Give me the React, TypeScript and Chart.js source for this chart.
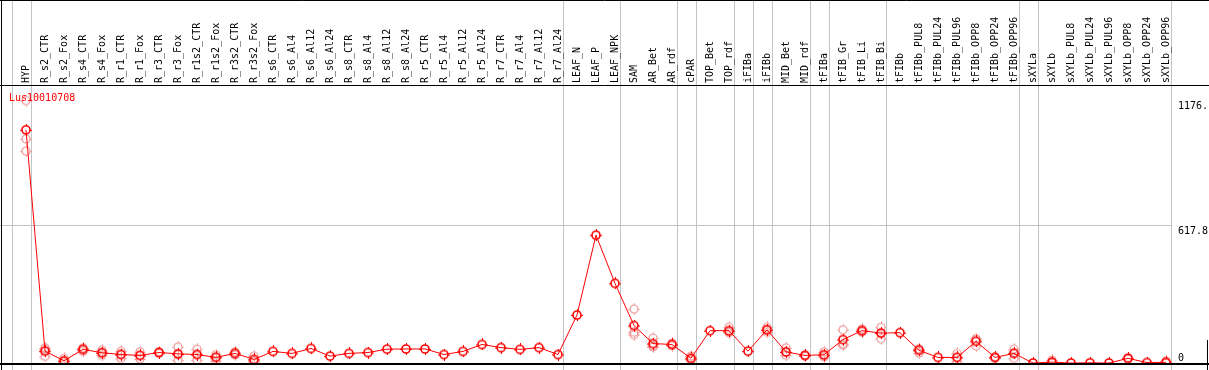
import React, { useEffect, useRef } from "react";
import { Chart, registerables } from "chart.js";

Chart.register(...registerables);

const geneTitle = "Lus10010708";

const categories = [
  "HYP",
  "R_s2_CTR", "R_s2_Fox", "R_s4_CTR", "R_s4_Fox", "R_r1_CTR", "R_r1_Fox", "R_r3_CTR", "R_r3_Fox",
  "R_r1s2_CTR", "R_r1s2_Fox", "R_r3s2_CTR", "R_r3s2_Fox",
  "R_s6_CTR", "R_s6_Al4", "R_s6_Al12", "R_s6_Al24",
  "R_s8_CTR", "R_s8_Al4", "R_s8_Al12", "R_s8_Al24",
  "R_r5_CTR", "R_r5_Al4", "R_r5_Al12", "R_r5_Al24",
  "R_r7_CTR", "R_r7_Al4", "R_r7_Al12", "R_r7_Al24",
  "LEAF_N", "LEAF_P", "LEAF_NPK",
  "SAM", "AR_Bet", "AR_rdf", "cPAR", "TOP_Bet", "TOP_rdf", "iFIBa", "iFIBb", "MID_Bet", "MID_rdf",
  "tFIBa", "tFIB_Gr", "tFIB_Li", "tFIB_Bi",
  "tFIBb", "tFIBb_PUL8", "tFIBb_PUL24", "tFIBb_PUL96", "tFIBb_OPP8", "tFIBb_OPP24", "tFIBb_OPP96",
  "sXYLa",
  "sXYLb", "sXYLb_PUL8", "sXYLb_PUL24", "sXYLb_PUL96", "sXYLb_OPP8", "sXYLb_OPP24", "sXYLb_OPP96",
];

const means = [
  1045,
  53, 10, 61, 46, 38, 34, 47, 41,
  38, 25, 43, 16,
  52, 43, 65, 31,
  43, 47, 62, 63,
  63, 38, 52, 83,
  69, 61, 69, 38,
  215, 573, 357,
  168, 87, 83, 21, 145, 145, 53, 149, 50, 34,
  37, 105, 145, 134,
  136, 57, 25, 25, 97, 25, 43,
  0,
  4, 0, 1, 0, 21, 2, 3,
];

const replicates: number[][] = [
  [1176, 1004, 950],
  [68, 61, 30], [21, 8, 1], [68, 63, 52], [57, 46, 35], [53, 40, 21], [50, 34, 18], [50, 47, 44], [72, 38, 13],
  [62, 39, 13], [37, 28, 10], [50, 43, 36], [31, 10, 7],
  [], [], [], [],
  [], [], [], [],
  [], [], [], [],
  [], [], [], [],
  [], [], [],
  [242, 138, 127], [112, 77, 72], [88, 83, 78], [31, 19, 13], [], [160, 140, 136], [], [160, 150, 138], [68, 48, 35], [36, 34, 32],
  [50, 33, 28], [149, 86, 80], [153, 145, 138], [160, 134, 109],
  [], [64, 62, 45], [], [43, 25, 8], [109, 105, 77], [28, 25, 22], [62, 46, 21],
  [],
  [13, 0, 0], [], [], [], [24, 21, 18], [], [9, 0, 0],
];

// index of the last category of each group (a separator is drawn after it)
const groupEnds = [-1, 0, 28, 31, 34, 35, 37, 38, 39, 41, 42, 45, 52, 53, 60];
const yTickValues = [1176, 617.8, 0];
const yTickLabels = ["1176.", "617.8", "0"];
const yGridValues = [617.8];
const yMax = 1246;

const FONT = '10px "DejaVu Sans Mono", "Liberation Mono", monospace';

function makeMarker(color: string, lw: number, stubColor: string) {
  const c = document.createElement("canvas");
  c.width = 12;
  c.height = 12;
  const ctx = c.getContext("2d")!;
  ctx.strokeStyle = color;
  ctx.lineWidth = lw;
  ctx.beginPath();
  ctx.arc(6, 6, 4, 0, Math.PI * 2);
  ctx.stroke();
  ctx.strokeStyle = stubColor;
  ctx.lineWidth = 1;
  ctx.beginPath();
  ctx.moveTo(6.5, 0);
  ctx.lineTo(6.5, 2);
  ctx.moveTo(6.5, 10);
  ctx.lineTo(6.5, 12);
  ctx.moveTo(0, 6.5);
  ctx.lineTo(2, 6.5);
  ctx.moveTo(10, 6.5);
  ctx.lineTo(12, 6.5);
  ctx.stroke();
  return c;
}

const decorPlugin = {
  id: "decor",
  beforeDatasetsDraw(chart: any) {
    const ctx = chart.ctx as CanvasRenderingContext2D;
    const xs = chart.scales.x;
    const ys = chart.scales.y;
    const H = chart.height;
    ctx.save();
    ctx.strokeStyle = "#c4c4c4";
    ctx.lineWidth = 1;
    let lastX = 0;
    for (const g of groupEnds) {
      const x = Math.round((xs.getPixelForValue(g) + xs.getPixelForValue(g + 1)) / 2 - 5) + 0.5;
      lastX = x;
      ctx.beginPath();
      ctx.moveTo(x, 0);
      ctx.lineTo(x, H);
      ctx.stroke();
    }
    for (const v of yGridValues) {
      const y = Math.round(ys.getPixelForValue(v)) + 0.5;
      ctx.beginPath();
      ctx.moveTo(0, y);
      ctx.lineTo(lastX, y);
      ctx.stroke();
    }
    ctx.restore();
  },
  afterDatasetsDraw(chart: any) {
    const ctx = chart.ctx as CanvasRenderingContext2D;
    const xs = chart.scales.x;
    const ys = chart.scales.y;
    const W = chart.width;
    const H = chart.height;
    const area = chart.chartArea;
    ctx.save();
    // frame
    ctx.strokeStyle = "#000";
    ctx.lineWidth = 1;
    ctx.beginPath();
    ctx.moveTo(0, 0.5);
    ctx.lineTo(W, 0.5);
    ctx.moveTo(0, area.top + 0.5);
    ctx.lineTo(W, area.top + 0.5);
    ctx.moveTo(1.5, 0);
    ctx.lineTo(1.5, H);
    ctx.moveTo(W - 1.5, 340);
    ctx.lineTo(W - 1.5, H);
    ctx.stroke();
    ctx.lineWidth = 2;
    ctx.beginPath();
    ctx.moveTo(0, area.bottom + 1);
    ctx.lineTo(W, area.bottom + 1);
    ctx.stroke();

    ctx.font = FONT;
    // category labels (rotated)
    ctx.fillStyle = "#000";
    ctx.textAlign = "left";
    ctx.textBaseline = "alphabetic";
    categories.forEach((c, i) => {
      const x = xs.getPixelForValue(i);
      ctx.save();
      ctx.translate(x + 3, area.top - 2);
      ctx.rotate(-Math.PI / 2);
      ctx.fillText(c, 0, 0);
      ctx.restore();
    });
    // right axis labels
    yTickValues.forEach((v, i) => {
      const y = ys.getPixelForValue(v);
      if (v === 0) {
        ctx.textBaseline = "alphabetic";
        ctx.fillText(yTickLabels[i], area.right + 12, y - 2.5);
      } else {
        ctx.textBaseline = "top";
        ctx.fillText(yTickLabels[i], area.right + 12, y + 1);
      }
    });
    // title
    ctx.fillStyle = "#ff0000";
    ctx.textBaseline = "middle";
    ctx.fillText(geneTitle, 9, 98);
    ctx.restore();
  },
};

export default function App() {
  const ref = useRef<HTMLCanvasElement | null>(null);
  useEffect(() => {
    document.body.style.margin = "0";
    const meanMarker = makeMarker("#ff0000", 1.6, "#ff0000");
    const repMarker = makeMarker("rgba(236,130,130,0.85)", 1.2, "rgba(236,130,130,0.6)");
    const repData: { x: string; y: number }[] = [];
    replicates.forEach((arr, i) => arr.forEach((v) => repData.push({ x: categories[i], y: v })));
    const chart = new Chart(ref.current!, {
      type: "line",
      data: {
        labels: categories,
        datasets: [
          {
            label: "mean",
            data: means,
            order: 0,
            borderColor: "#ff0000",
            borderWidth: 1,
            pointStyle: meanMarker as any,
            pointRadius: 6,
            tension: 0,
          },
          {
            label: "replicates",
            data: repData as any,
            order: 1,
            showLine: false,
            pointStyle: repMarker as any,
            pointRadius: 6,
          },
        ],
      },
      options: {
        animation: false,
        responsive: false,
        devicePixelRatio: 1,
        layout: { padding: { left: 26, right: 43, top: 85, bottom: 2 } },
        plugins: { legend: { display: false }, tooltip: { enabled: false } },
        scales: {
          x: { type: "category", display: false, offset: false },
          y: { type: "linear", display: false, min: 0, max: yMax },
        },
      },
      plugins: [decorPlugin],
    });
    return () => chart.destroy();
  }, []);
  return (
    <div style={{ position: "absolute", left: 0, top: 0, width: 1209, height: 370, background: "#fff" }}>
      <canvas ref={ref} width={1209} height={370} style={{ display: "block" }} />
    </div>
  );
}
